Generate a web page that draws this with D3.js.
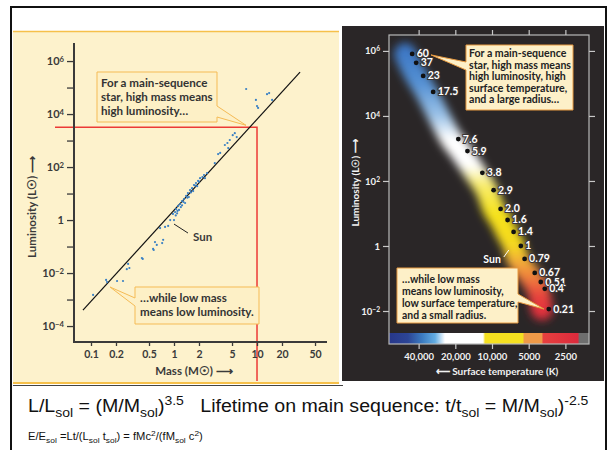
<!DOCTYPE html>
<html>
<head>
<meta charset="utf-8">
<script src="https://cdn.jsdelivr.net/npm/d3@7"></script>
<style>
  body { margin: 0; background: #fff; }
  svg { display: block; }
  text { white-space: pre; }
</style>
</head>
<body>
<svg id="chart" width="608" height="450"></svg>
<script>
// ---- data: mass-luminosity diagram (left) ----
const massTicks = [0.1, 0.2, 0.5, 1, 2, 5, 10, 20, 50];
const lumTicks = [1e-4, 1e-3, 1e-2, 1e-1, 1, 10, 1e2, 1e3, 1e4, 1e5, 1e6];
const starMass = [7.4, 13.2, 14, 9.7, 10, 10.3, 15.2, 5.4, 5.7, 5.1, 4.7, 4.4, 3.6, 3.4, 4.5, 3.1, 4.1,
  2.5, 2.3, 2.2, 2.06, 2.36, 1.95, 1.84, 1.74, 1.9, 1.65, 1.56, 1.7, 1.47, 1.4, 1.51, 1.32, 1.25, 1.36,
  1.18, 1.12, 1.21, 1.06, 1.15, 1.03, 1.09, 0.97, 1.0, 0.9, 0.85, 0.78, 0.68, 0.74, 0.72, 0.62, 0.59,
  0.56, 0.57, 0.41, 0.42, 0.28, 0.29, 0.27, 0.152, 0.156, 0.206, 0.243, 0.106,
  1.1, 1.3, 1.45, 1.6, 1.8, 2.0, 1.25, 1.05];
const starLum = [8.8e4, 5.6e4, 6.2e4, 3.4e4, 2e4, 1.7e4, 3.4e4, 1900, 1350, 1600, 1050, 810, 340, 310, 520, 140, 680,
  59, 50, 42, 38, 38, 30, 25, 21, 19, 16, 13.5, 12.4, 10.4, 8.1, 7.4, 6.2, 5.2, 4.4,
  4, 3.4, 3.1, 2.6, 2.4, 2, 1.8, 1.7, 1.0, 1.0, 0.6, 0.55, 0.5, 0.18, 0.135, 0.115, 0.148,
  0.081, 0.074, 0.037, 0.034, 0.022, 0.0155, 0.014, 0.0055, 0.0046, 0.005, 0.005, 0.0015,
  2.2, 4.8, 7, 11, 20, 28, 3.6, 1.5];
const fitMass = [0.08, 33];
const fitLum = [4e-4, 3.8e5];
const markMass = 10;
const markLum = Math.pow(10, 3.5);

// ---- data: HR diagram main sequence (right) ----
const seqLabel = ["60", "37", "23", "17.5", "7.6", "5.9", "3.8", "2.9", "2.0", "1.6", "1.4", "1", "0.79", "0.67", "0.51", "0.4", "0.21"];
const seqTemp = [45200, 41900, 36700, 30400, 18900, 15900, 12000, 9700, 8500, 7450, 6650, 5800, 5400, 4460, 3980, 3690, 3420];
const seqLum = [8.1e5, 4.3e5, 1.7e5, 5.5e4, 1950, 830, 178, 52, 13.8, 6.3, 2.7, 1, 0.4, 0.148, 0.078, 0.048, 0.0115];
const hrLumTicks = [1e-2, 1, 1e2, 1e4, 1e6];
const tempTicks = [40000, 20000, 10000, 5000, 2500];
const barTemp = [70000, 48900, 37500, 29300, 24300, 11850, 11400, 5560, 5470, 3890, 3820, 1967, 1930, 1600];
const barColor = ["#27378a", "#2c4596", "#3b7bc0", "#63ade2", "#ffffff", "#ffffff", "#f5e020", "#f5e020",
  "#ef9a48", "#ef9a48", "#e6403f", "#dc2a3c", "#6e6e6e", "#6e6e6e"];
const bandLum = [2e6, 1e5, 1e4, 2e3, 300, 80, 10, 1, 0.3, 0.1, 0.03, 0.01];
const bandColor = ["#3670c0", "#5591d4", "#9cc3e8", "#ffffff", "#ffffff", "#f8ec70", "#f6e31c", "#f5d820",
  "#f2a83a", "#ef7c3c", "#e8443c", "#e3303c"];

const svg = d3.select("#chart");
const defs = svg.append("defs");
const boxFont = "Lato, 'Open Sans', sans-serif";

// helper: "10" with superscript exponent
function powLabel(sel) {
  sel.each(function(d) {
    const t = d3.select(this).text(null);
    if (d === 1) { t.text("1"); return; }
    const e = Math.round(Math.log10(d));
    t.append("tspan").text("10");
    t.append("tspan").attr("dy", "-0.45em").attr("font-size", "70%").text(String(e).replace("-", "\u2212"));
  });
}

// helper: callout box with a wedge pointer on one side
function callout(g, box, side, p1, p2, tip, fill, stroke) {
  const [x0, y0, x1, y1] = box;
  let d;
  if (side === "right") {
    d = `M${x0},${y0}H${x1}V${p1}L${tip[0]},${tip[1]}L${x1},${p2}V${y1}H${x0}Z`;
  } else {
    d = `M${x0},${y0}H${x1}V${y1}H${x0}V${p2}L${tip[0]},${tip[1]}L${x0},${p1}Z`;
  }
  g.append("path").attr("d", d).attr("fill", fill).attr("stroke", stroke).attr("stroke-width", 1);
}

function boxText(g, x, y0, step, lines, size, color) {
  lines.forEach((s, i) => {
    g.append("text").attr("x", x).attr("y", y0 + i * step)
      .attr("font-family", boxFont).attr("font-weight", 700)
      .attr("font-size", size).attr("fill", color).text(s);
  });
}

// ---- page frame ----
svg.append("rect").attr("width", 608).attr("height", 450).attr("fill", "#fff");
svg.append("path").attr("d", "M11,451V7H606V451").attr("fill", "none").attr("stroke", "#111").attr("stroke-width", 2);

// ================= left panel =================
const left = svg.append("g");
left.append("rect").attr("x", 13).attr("y", 31).attr("width", 326).attr("height", 352).attr("fill", "#fdf2cc");
left.append("line").attr("x1", 13).attr("x2", 339).attr("y1", 31.5).attr("y2", 31.5).attr("stroke", "#f6c04a").attr("stroke-width", 1.5);
left.append("line").attr("x1", 13).attr("x2", 339).attr("y1", 383).attr("y2", 383).attr("stroke", "#f6c04a").attr("stroke-width", 2);
left.append("line").attr("x1", 13).attr("x2", 343).attr("y1", 385.5).attr("y2", 385.5).attr("stroke", "#444").attr("stroke-width", 1);

const xM = d3.scaleLog().domain([0.0624, 69.7]).range([74, 327]);
const yL = d3.scaleLog().domain([2.5e-5, 4.8e6]).range([342, 43]);
const axisCol = "#3a3a3a";

// red marker lines (M = 10)
left.append("path")
  .attr("d", `M55,${yL(markLum)}H${xM(markMass)}V381`)
  .attr("fill", "none").attr("stroke", "#ec3a36").attr("stroke-width", 1.5);

// y axis
const yAx = left.append("g").attr("transform", "translate(74,0)")
  .call(d3.axisLeft(yL).tickValues(lumTicks).tickSize(7).tickPadding(3)
    .tickFormat(d => Math.round(Math.log10(d)) % 2 === 0 ? d : ""));
yAx.select(".domain").remove();
yAx.selectAll("line").attr("stroke", axisCol).attr("stroke-width", 1.3);
yAx.selectAll("text").filter(d => Math.round(Math.log10(d)) % 2 === 0).call(powLabel);
yAx.selectAll("text").attr("font-family", boxFont).attr("font-weight", 700).attr("font-size", 11).attr("fill", axisCol);

// x axis
const xAx = left.append("g").attr("transform", "translate(0,342)")
  .call(d3.axisBottom(xM).tickValues(massTicks).tickSize(4).tickPadding(5).tickFormat(d => String(d)));
xAx.select(".domain").remove();
xAx.selectAll("line").attr("stroke", axisCol).attr("stroke-width", 1.3);
xAx.selectAll("text").attr("font-family", boxFont).attr("font-weight", 700).attr("font-size", 10.5).attr("fill", axisCol);

left.append("path").attr("d", "M74,43V342H327").attr("fill", "none").attr("stroke", axisCol).attr("stroke-width", 2);

// fit line
left.append("line")
  .attr("x1", xM(fitMass[0])).attr("y1", yL(fitLum[0]))
  .attr("x2", xM(fitMass[1])).attr("y2", yL(fitLum[1]))
  .attr("stroke", "#111").attr("stroke-width", 1.2);

// stars
left.append("g").selectAll("circle")
  .data(starMass.map((m, i) => [m, starLum[i]]))
  .join("circle")
  .attr("cx", d => xM(d[0])).attr("cy", d => yL(d[1])).attr("r", 1.1)
  .attr("fill", "#3a80c4");

// axis titles
left.append("text").attr("x", 194).attr("y", 375).attr("text-anchor", "middle")
  .attr("font-family", boxFont).attr("font-weight", 700).attr("font-size", 11.5).attr("fill", axisCol)
  .text("Mass (M\u2609) \u27F6");
left.append("text").attr("transform", "translate(36,207) rotate(-90)").attr("text-anchor", "middle")
  .attr("font-family", boxFont).attr("font-weight", 700).attr("font-size", 11.5).attr("fill", axisCol)
  .text("Luminosity (L\u2609) \u27F6");

// Sun label
const sunX = xM(1), sunY = yL(1);
left.append("line").attr("x1", sunX).attr("y1", sunY + 4).attr("x2", sunX + 14).attr("y2", sunY + 13)
  .attr("stroke", "#222").attr("stroke-width", 1);
left.append("text").attr("x", sunX + 19).attr("y", sunY + 21)
  .attr("font-family", boxFont).attr("font-weight", 700).attr("font-size", 11.5).attr("fill", axisCol).text("Sun");

// callouts
callout(left, [97, 72, 217, 122], "right", 106, 117, [246, yL(markLum) - 2], "#fdf0c6", "#f5bb55");
boxText(left, 101, 87, 14, ["For a main-sequence", "star, high mass means", "high luminosity\u2026"], 11.6, "#333");
callout(left, [135, 287, 259, 324], "left", 298, 306, [110, 287], "#fdf0c6", "#f5bb55");
boxText(left, 140, 302, 14, ["\u2026while low mass", "means low luminosity."], 11.6, "#333");

// ================= right panel =================
const right = svg.append("g");
right.append("rect").attr("x", 342).attr("y", 26).attr("width", 262).attr("height", 355).attr("fill", "#2a2627");

const xT = d3.scaleLog().domain([70000, 1600]).range([389, 589]);
const yR = d3.scaleLog().domain([Math.pow(10, -3.015), Math.pow(10, 6.49)]).range([344, 35]);
const light = "#f2f2f2";

// glowing main-sequence band
const bandGrad = defs.append("linearGradient").attr("id", "band").attr("gradientUnits", "userSpaceOnUse")
  .attr("x1", 0).attr("x2", 0).attr("y1", yR(bandLum[0])).attr("y2", yR(bandLum[bandLum.length - 1]));
bandLum.forEach((l, i) => {
  bandGrad.append("stop")
    .attr("offset", (yR(l) - yR(bandLum[0])) / (yR(bandLum[bandLum.length - 1]) - yR(bandLum[0])))
    .attr("stop-color", bandColor[i]);
});
const blur = defs.append("filter").attr("id", "blur").attr("filterUnits", "userSpaceOnUse")
  .attr("x", 342).attr("y", 26).attr("width", 262).attr("height", 355);
blur.append("feGaussianBlur").attr("stdDeviation", 4.5);

const clip = defs.append("clipPath").attr("id", "plotclip");
clip.append("rect").attr("x", 389).attr("y", 35).attr("width", 200).attr("height", 298);

const bandPts = seqTemp.map((t, i) => [xT(t), yR(seqLum[i])]);
right.append("g").attr("clip-path", "url(#plotclip)")
  .append("path")
  .attr("transform", "translate(-7,0)")
  .attr("d", d3.line().curve(d3.curveCatmullRom)(bandPts))
  .attr("fill", "none").attr("stroke", "url(#band)").attr("stroke-width", 22)
  .attr("stroke-linecap", "round").attr("filter", "url(#blur)");

// colour bar
const barGrad = defs.append("linearGradient").attr("id", "tbar").attr("gradientUnits", "userSpaceOnUse")
  .attr("x1", xT.range()[0]).attr("x2", xT.range()[1]).attr("y1", 0).attr("y2", 0);
barTemp.forEach((t, i) => {
  barGrad.append("stop").attr("offset", (xT(t) - 389) / 200).attr("stop-color", barColor[i]);
});
right.append("rect").attr("x", 389).attr("y", 333).attr("width", 200).attr("height", 11).attr("fill", "url(#tbar)");

// frame
right.append("rect").attr("x", 389).attr("y", 35).attr("width", 200).attr("height", 309)
  .attr("fill", "none").attr("stroke", "#b8b8b8").attr("stroke-width", 1.2);

// axes
const rl = right.append("g").attr("transform", "translate(389,0)")
  .call(d3.axisLeft(yR).tickValues(hrLumTicks).tickSize(6).tickPadding(3));
const rr = right.append("g").attr("transform", "translate(589,0)")
  .call(d3.axisRight(yR).tickValues(hrLumTicks).tickSize(6).tickFormat(""));
const rt = right.append("g").attr("transform", "translate(0,35)")
  .call(d3.axisTop(xT).tickValues(tempTicks).tickSize(5).tickFormat(""));
const rb = right.append("g").attr("transform", "translate(0,344)")
  .call(d3.axisBottom(xT).tickValues(tempTicks).tickSize(5).tickPadding(4)
    .tickFormat(d => d >= 10000 ? d3.format(",")(d) : String(d)));
[rl, rr, rt, rb].forEach(a => {
  a.select(".domain").remove();
  a.selectAll("line").attr("stroke", "#c8c8c8").attr("stroke-width", 1.2);
});
rl.selectAll("text").call(powLabel);
[rl, rb].forEach(a => a.selectAll("text").attr("font-family", boxFont).attr("font-weight", 700)
  .attr("font-size", 9.5).attr("fill", light));

right.append("text").attr("x", 497).attr("y", 375).attr("text-anchor", "middle")
  .attr("font-family", boxFont).attr("font-weight", 700).attr("font-size", 10).attr("fill", light)
  .text("\u27F5 Surface temperature (K)");
right.append("text").attr("transform", "translate(359,183) rotate(-90)").attr("text-anchor", "middle")
  .attr("font-family", boxFont).attr("font-weight", 700).attr("font-size", 10).attr("fill", light)
  .text("Luminosity (L\u2609) \u27F6");

// stars
const seq = right.append("g");
seq.selectAll("circle").data(seqTemp).join("circle")
  .attr("cx", d => xT(d)).attr("cy", (d, i) => yR(seqLum[i])).attr("r", 2.4).attr("fill", "#111");
seq.selectAll("text").data(seqTemp).join("text")
  .attr("x", d => xT(d) + 4.5).attr("y", (d, i) => yR(seqLum[i]) + 3.5)
  .attr("font-family", boxFont).attr("font-weight", 700).attr("font-size", 10.5).attr("fill", "#fff")
  .attr("stroke", "#3a3536").attr("stroke-width", 2).attr("paint-order", "stroke")
  .text((d, i) => seqLabel[i]);

// Sun label
const hsX = xT(5800), hsY = yR(1);
right.append("line").attr("x1", hsX - 17).attr("y1", hsY + 11).attr("x2", hsX - 12).attr("y2", hsY + 4)
  .attr("stroke", "#fff").attr("stroke-width", 1);
right.append("text").attr("x", hsX - 20).attr("y", hsY + 17).attr("text-anchor", "end")
  .attr("font-family", boxFont).attr("font-weight", 700).attr("font-size", 10.5).attr("fill", "#fff").text("Sun");

// callouts
callout(right, [466, 45, 573, 110], "left", 62, 70, [431, yR(seqLum[0]) + 1], "#fdf0c8", "#e89a40");
boxText(right, 469, 57, 11.6,
  ["For a main-sequence", "star, high mass means", "high luminosity, high", "surface temperature,", "and a large radius\u2026"],
  10.6, "#222");
callout(right, [397, 268, 518, 323], "right", 294, 302, [544, yR(seqLum[16])], "#fdf0c8", "#e89a40");
boxText(right, 402, 282.5, 12,
  ["\u2026while low mass", "means low luminosity,", "low surface temperature,", "and a small radius."],
  10.4, "#222");

// ================= formulas =================
function richText(x, y, size, subSize, stretch, parts) {
  const t = svg.append("text").attr("x", x).attr("y", y)
    .attr("transform", `translate(${x},0) scale(${stretch},1) translate(${-x},0)`)
    .attr("font-family", "'Liberation Sans', Arial, sans-serif").attr("font-size", size).attr("fill", "#111");
  let shift = 0;
  parts.forEach(([s, mode]) => {
    const target = mode === "sub" ? size * 0.3 : mode === "sup" ? -size * 0.42 : 0;
    const sp = t.append("tspan").attr("dy", target - shift).text(s);
    if (mode) sp.attr("font-size", subSize);
    shift = target;
  });
}
richText(28, 412, 17.5, 12.5, 1.12, [["L/L"], ["sol", "sub"], [" = (M/M"], ["sol", "sub"], [")"], ["3.5", "sup"],
  ["   Lifetime on main sequence: t/t"], ["sol", "sub"], [" = M/M"], ["sol", "sub"], [")"], ["-2.5", "sup"]]);
richText(28, 440, 10, 7.5, 1.12, [["E/E"], ["sol", "sub"], [" =Lt/(L"], ["sol", "sub"], [" t"], ["sol", "sub"],
  [") = fMc"], ["2", "sup"], ["/(fM"], ["sol", "sub"], [" c"], ["2", "sup"], [")"]]);
</script>
</body>
</html>
